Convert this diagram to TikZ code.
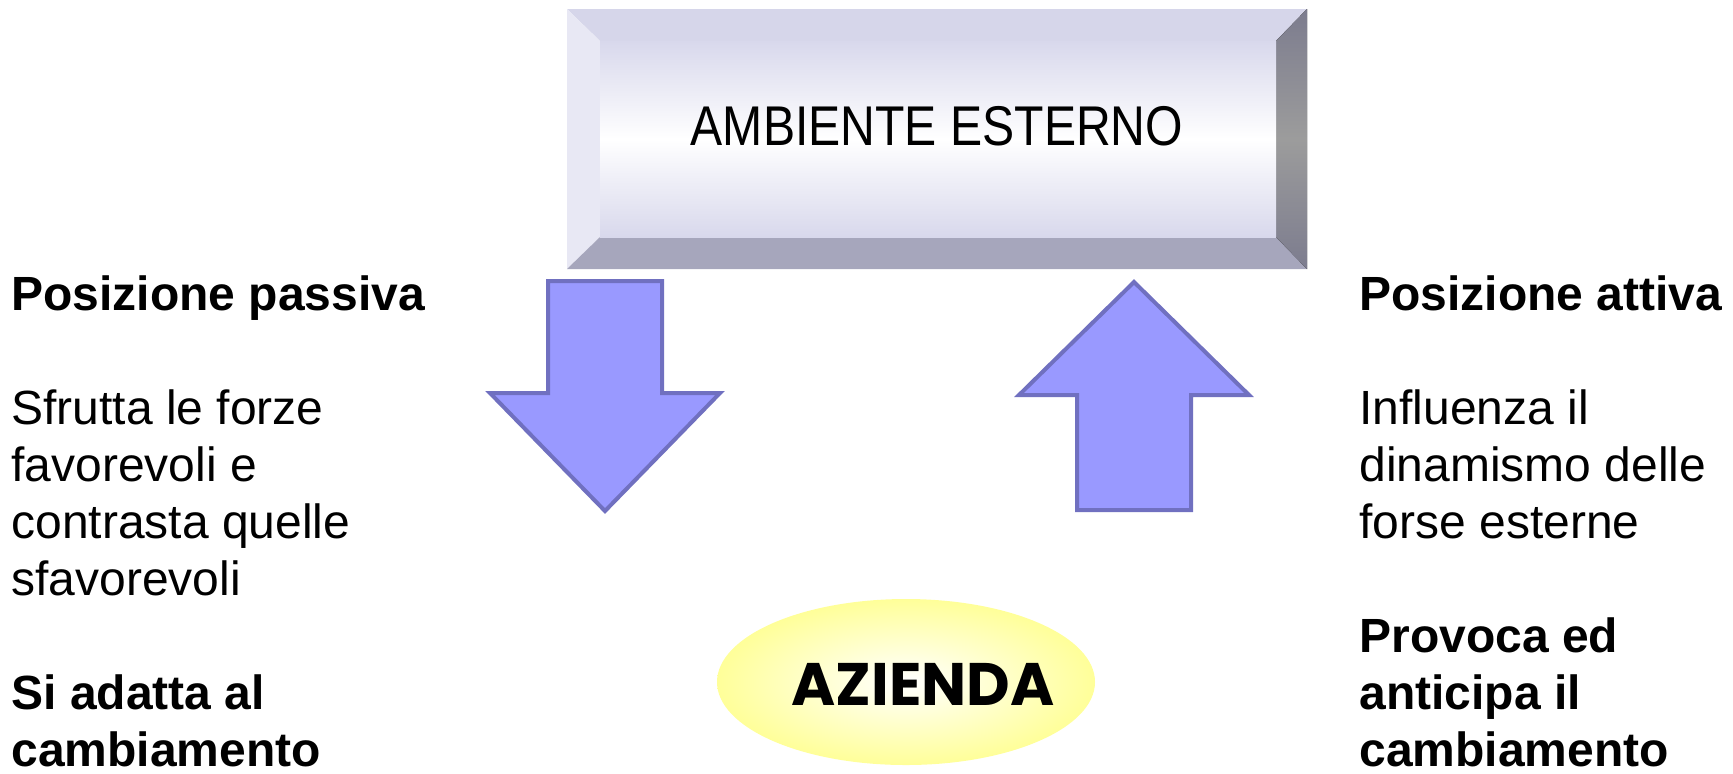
\documentclass[tikz,border=0pt]{standalone}
\usepackage{fontspec}
\setmainfont{Liberation Sans}
\newfontfamily\narrowfont[FakeStretch=0.86]{Liberation Sans}
\newfontfamily\comicfont{Poppins}
\usetikzlibrary{shapes.geometric}

\definecolor{arrowfill}{HTML}{9999FF}
\definecolor{arrowline}{HTML}{7070C0}
\definecolor{bevtop}{HTML}{D6D6EA}
\definecolor{bevleft}{HTML}{E8E8F4}
\definecolor{bevbottom}{HTML}{A6A6BC}
\definecolor{bevright}{HTML}{7C7C8E}
\definecolor{bevrightmid}{HTML}{9C9C9C}
\definecolor{facetop}{HTML}{D8D8EC}
\definecolor{firmyellow}{HTML}{FFFF99}

\begin{document}
\begin{tikzpicture}[
  x=0.5pt, y=-0.5pt,
  blockarrow/.style={fill=arrowfill, draw=arrowline, line width=2pt, line join=miter},
  column/.style={anchor=base west, align=left, inner sep=0pt,
    font=\fontsize{24pt}{28.5pt}\selectfont},
  firm/.style={ellipse, minimum width=189pt, minimum height=83pt,
    inner color=white, outer color=firmyellow}
]
\useasboundingbox (0,0) rectangle (1733,773);

% Corners of the bevelled box
\coordinate (o1) at (567,9);
\coordinate (o2) at (1307,9);
\coordinate (o3) at (1307,269);
\coordinate (o4) at (567,269);
\coordinate (i1) at (600,41);
\coordinate (i2) at (1276,41);
\coordinate (i3) at (1276,237);
\coordinate (i4) at (600,237);

% Bevels and face
\fill[bevtop] (o1) -- (o2) -- (i2) -- (i1) -- cycle;
\fill[bevleft] (o1) -- (i1) -- (i4) -- (o4) -- cycle;
\fill[bevbottom] (o4) -- (i4) -- (i3) -- (o3) -- cycle;
\fill[top color=bevright, bottom color=bevright, middle color=bevrightmid]
  (o2) -- (o3) -- (i3) -- (i2) -- cycle;
\fill[top color=facetop, bottom color=facetop, middle color=white] (i1) rectangle (i3);

\node[inner sep=0pt, font=\narrowfont\fontsize{28pt}{32pt}\selectfont] (env) at (937,126) {AMBIENTE ESTERNO};

% Block arrows
\draw[blockarrow] (548,281) -- (662,281) -- (662,393) -- (720,393) -- (605,511)
  -- (490,393) -- (548,393) -- cycle;
\draw[blockarrow] (1134,282) -- (1249,395) -- (1191,395) -- (1191,510)
  -- (1077,510) -- (1077,395) -- (1019,395) -- cycle;

% Firm
\node[firm] (firmshape) at (906,682) {};
\node[inner sep=0pt, font=\comicfont\bfseries\fontsize{30pt}{34pt}\selectfont] (firm) at (923,684) {AZIENDA};

% Side texts (anchored at the baseline of the last line)
\node[column] (passive) at (11,766) {\textbf{Posizione passiva}\\ \mbox{}\\
  Sfrutta le forze\\ favorevoli e\\ contrasta quelle\\ sfavorevoli\\ \mbox{}\\
  \textbf{Si adatta al}\\ \textbf{cambiamento}};
\node[column] (active) at (1359,766) {\textbf{Posizione attiva}\\ \mbox{}\\
  Influenza il\\ dinamismo delle\\ forse esterne\\ \mbox{}\\
  \textbf{Provoca ed}\\ \textbf{anticipa il}\\ \textbf{cambiamento}};

\end{tikzpicture}
\end{document}
